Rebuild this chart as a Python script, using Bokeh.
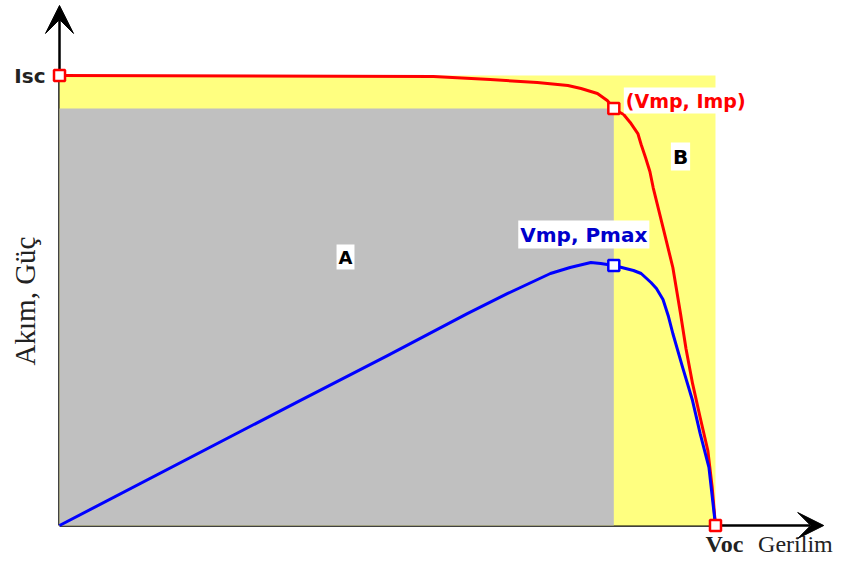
import math
from bokeh.plotting import figure
from bokeh.models import Label, Arrow, VeeHead, Range1d
from bokeh.embed import file_html
from bokeh.resources import INLINE

# I-V curve (current, red)
v_iv = [0.0, 0.342, 0.394, 0.437, 0.465, 0.477, 0.492, 0.501, 0.507, 0.511, 0.516,
        0.522, 0.529, 0.532, 0.536, 0.540, 0.543, 0.552, 0.561, 0.568, 0.573, 0.579,
        0.586, 0.593, 0.597, 0.600]
i_iv = [3.0, 2.993, 2.973, 2.953, 2.933, 2.913, 2.880, 2.833, 2.780, 2.760, 2.740,
        2.687, 2.613, 2.540, 2.453, 2.360, 2.253, 1.987, 1.720, 1.413, 1.180, 0.947,
        0.720, 0.500, 0.253, 0.0]

# P-V curve (power, blue, drawn on same scale)
v_pv = [0.0, 0.220, 0.300, 0.373, 0.410, 0.449, 0.467, 0.486, 0.495, 0.507, 0.525,
        0.532, 0.541, 0.546, 0.552, 0.557, 0.561, 0.570, 0.579, 0.586, 0.594, 0.600]
p_pv = [0.0, 0.833, 1.133, 1.413, 1.547, 1.680, 1.720, 1.753, 1.747, 1.733, 1.700,
        1.680, 1.620, 1.580, 1.507, 1.393, 1.280, 1.053, 0.833, 0.613, 0.387, 0.0]

Voc, Isc = 0.600, 3.0
Vmp, Imp, Pmax = 0.507, 2.780, 1.733

p = figure(width=843, height=555, output_backend="svg", toolbar_location=None,
           x_range=Range1d(-0.05397, 0.71709), y_range=Range1d(-0.2, 3.5),
           x_axis_location=None, y_axis_location=None, min_border=0)
p.grid.visible = False
p.outline_line_color = None
p.background_fill_color = "white"
p.border_fill_color = "white"

# axes as arrows (beneath the areas)
ax_v = Arrow(x_start=0, y_start=0, x_end=0, y_end=3.467, line_color="black", line_width=2.5,
             end=VeeHead(size=28, fill_color="black", line_color="black"))
ax_h = Arrow(x_start=0, y_start=0, x_end=0.699, y_end=0, line_color="black", line_width=2.5,
             end=VeeHead(size=26, fill_color="black", line_color="black"))
ax_v.level = "underlay"
ax_h.level = "underlay"
p.add_layout(ax_v)
p.add_layout(ax_h)

# areas
p.quad(left=[0], right=[Voc], bottom=[0], top=[Isc], fill_color="#FFFF80", line_color=None)
p.quad(left=[0], right=[Vmp], bottom=[0], top=[Imp], fill_color="#C0C0C0", line_color=None)

# curves
p.line(v_iv, i_iv, line_color="#FF0000", line_width=3, line_join="round")
p.line(v_pv, p_pv, line_color="#0000FF", line_width=3, line_join="round")

# markers
p.scatter([0, Vmp, Voc], [Isc, Imp, 0], marker="square", size=11, fill_color="white",
          line_color="#FF0000", line_width=2.5)
p.scatter([Vmp], [Pmax], marker="square", size=11, fill_color="white",
          line_color="#0000FF", line_width=2.5)

sans = "DejaVu Sans"
serif = "Liberation Serif"

p.add_layout(Label(x=0, y=Isc, x_offset=-14, text="Isc", text_align="right",
                   text_baseline="middle", text_font=sans, text_font_style="bold",
                   text_font_size="20px", text_color="#222222"))
p.add_layout(Label(x=Vmp, y=Imp, x_offset=10, y_offset=8, text="(Vmp, Imp)",
                   text_align="left", text_baseline="middle", text_font=sans,
                   text_font_style="bold", text_font_size="19px", text_color="#FF0000",
                   background_fill_color="white", padding=2))
p.add_layout(Label(x=Vmp, y=Pmax, x_offset=-30, y_offset=31, text="Vmp, Pmax",
                   text_align="center", text_baseline="middle", text_font=sans,
                   text_font_style="bold", text_font_size="20px", text_color="#0000CC",
                   background_fill_color="white", padding=2))
p.add_layout(Label(x=0.568, y=2.46, text="B", text_align="center", text_baseline="middle",
                   text_font=sans, text_font_style="bold", text_font_size="20px",
                   text_color="black", background_fill_color="white", padding=2))
p.add_layout(Label(x=0.2616, y=1.79, text="A", text_align="center", text_baseline="middle",
                   text_font=sans, text_font_style="bold", text_font_size="18px",
                   text_color="black", background_fill_color="white", padding=2))
p.add_layout(Label(x=Voc, y=0, x_offset=9, y_offset=-18, text="Voc", text_align="center",
                   text_baseline="middle", text_font=serif, text_font_style="bold",
                   text_font_size="24px", text_color="#222222"))
p.add_layout(Label(x=0.639, y=0, y_offset=-18, text="Gerilim", text_align="left",
                   text_baseline="middle", text_font=serif, text_font_size="24px",
                   text_color="#222222"))
p.add_layout(Label(x=-0.032, y=1.497, text="Akım, Güç", angle=math.pi / 2,
                   text_align="center", text_baseline="middle", text_font=serif,
                   text_font_size="29px", text_color="#222222"))

open("out.html", "w").write(file_html(p, INLINE))
